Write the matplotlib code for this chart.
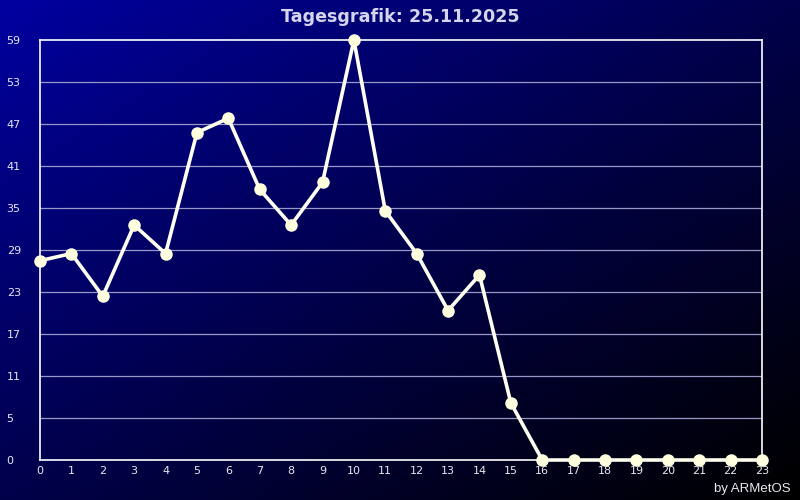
import matplotlib
matplotlib.use("Agg")
import matplotlib.pyplot as plt
import numpy as np

# hourly values
hours = list(range(24))
values = [28, 29, 23, 33, 29, 46, 48, 38, 33, 39, 59, 35, 29, 21, 26, 8,
          0, 0, 0, 0, 0, 0, 0, 0]
y_max = 59
title = "Tagesgrafik: 25.11.2025"
credit = "by ARMetOS"

fig = plt.figure(figsize=(8, 5), dpi=100)

# diagonal blue -> black background
bg = fig.add_axes([0, 0, 1, 1])
gx, gy = np.meshgrid(np.linspace(0, 1, 400), np.linspace(0, 1, 250))
t = np.clip((gx + gy) / 2.0, 0, 1)
img = np.zeros((250, 400, 3))
img[..., 2] = 0.63 * (1 - t) ** 1.1
bg.imshow(img, aspect="auto", extent=[0, 1, 0, 1], origin="upper")
bg.set_axis_off()

ax = fig.add_axes([40 / 800, 40 / 500, 722 / 800, 420 / 500])
ax.patch.set_alpha(0)

yticks = [i * y_max / 10 for i in range(11)]
for yt in yticks[1:-1]:
    ax.axhline(yt, color="#9898c8", lw=0.9, zorder=1)

ax.plot(hours, values, color="#fffff0", lw=2.6, zorder=3,
        marker="o", markersize=8, markerfacecolor="#ffffe0",
        markeredgecolor="#ffffe0", clip_on=False)

ax.set_xlim(0, 23)
ax.set_ylim(0, y_max)
for s in ax.spines.values():
    s.set_color("white")
    s.set_linewidth(1.2)

ax.set_xticks(hours)
ax.set_xticklabels([str(h) for h in hours])
ax.set_yticks(yticks)
ax.set_yticklabels([str(int(v)) for v in yticks], ha="left")
ax.tick_params(axis="both", length=0, labelsize=8, colors="#e8e8f0")
ax.tick_params(axis="y", pad=24)
ax.tick_params(axis="x", pad=4)

fig.text(0.5, 0.966, title, ha="center", va="center", fontsize=12.6,
         fontweight="bold", color="#d4d4ec", family="Liberation Sans Narrow")
fig.text(0.988, 0.022, credit, ha="right", va="center", fontsize=9.5,
         color="#e8e8f0", family="Liberation Sans")

fig.savefig("out.png", dpi=100)
